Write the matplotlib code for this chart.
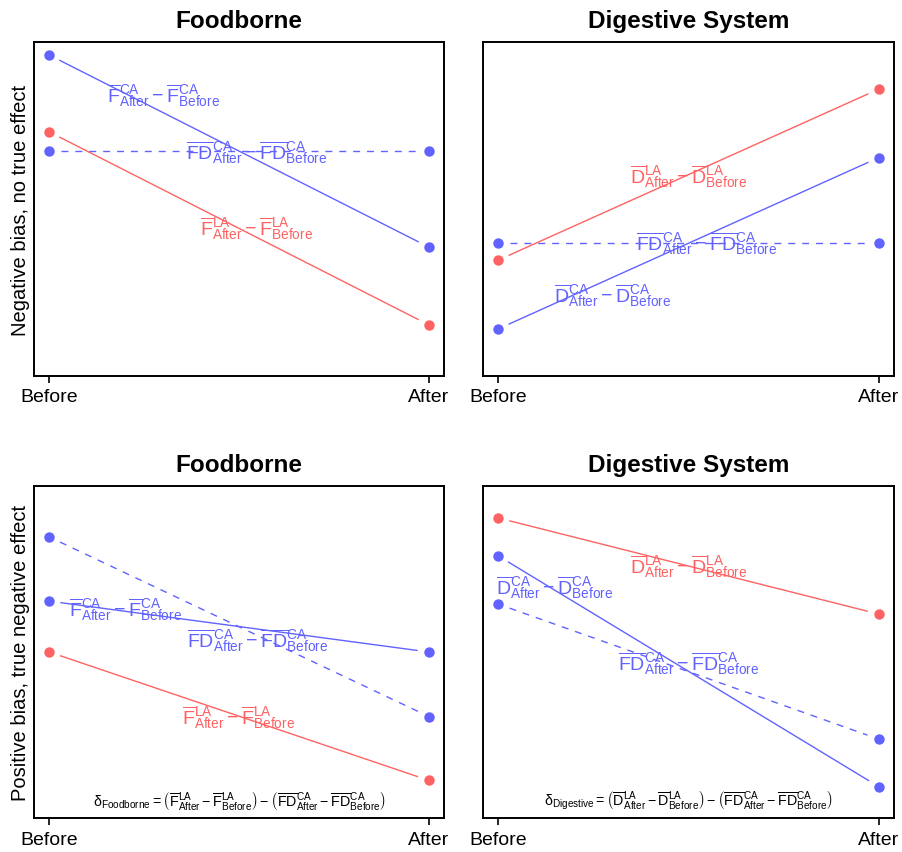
import numpy as np
import matplotlib
matplotlib.use('Agg')
import matplotlib.pyplot as plt

plt.rcParams['font.family'] = ['Liberation Sans', 'DejaVu Sans']
plt.rcParams['mathtext.fontset'] = 'custom'
plt.rcParams['mathtext.rm'] = 'Liberation Sans'
plt.rcParams['mathtext.it'] = 'Liberation Sans:italic'
plt.rcParams['mathtext.bf'] = 'Liberation Sans:bold'

BLUE = '#6262FF'
RED = '#FF6262'

periods = ['Before', 'After']
titles = ['Foodborne', 'Digestive System', 'Foodborne', 'Digestive System']
ylabels = ['Negative bias, no true effect', None, 'Positive bias, true negative effect', None]

# values (arbitrary 0-10 scale), [Before, After]
case_solid = [[9.61, 3.86], [1.41, 6.54], [6.53, 5.00], [7.89, 0.95]]   # blue solid
case_dash = [[6.74, 6.74], [3.97, 3.97], [8.46, 3.06], [6.44, 2.38]]    # blue dashed (FD)
local = [[7.31, 1.53], [3.47, 8.59], [5.00, 1.14], [9.03, 6.14]]        # red


def diff(sym, grp):
    return (r'$\overline{\mathrm{%s}}^{\mathrm{%s}}_{\mathrm{After}}-'
            r'\overline{\mathrm{%s}}^{\mathrm{%s}}_{\mathrm{Before}}$' % (sym, grp, sym, grp))


def delta(name, sym):
    return (r'$\mathrm{\delta}_{\mathrm{%s}}=\left(\overline{\mathrm{%s}}^{\mathrm{LA}}_{\mathrm{After}}-'
            r'\overline{\mathrm{%s}}^{\mathrm{LA}}_{\mathrm{Before}}\right)-'
            r'\left(\overline{\mathrm{FD}}^{\mathrm{CA}}_{\mathrm{After}}-'
            r'\overline{\mathrm{FD}}^{\mathrm{CA}}_{\mathrm{Before}}\right)$' % (name, sym, sym))


syms = ['F', 'D', 'F', 'D']
# label positions: (solid, dashed, red)
lab_pos = [
    [(1.30, 8.44), (1.547, 6.72), (1.547, 4.43)],
    [(1.30, 2.43), (1.548, 3.98), (1.50, 6.00)],
    [(1.20, 6.31), (1.549, 5.36), (1.50, 3.06)],
    [(1.148, 6.98), (1.50, 4.69), (1.50, 7.59)],
]
delta_names = [None, None, 'Foodborne', 'Digestive']

W, H = 902, 853
fig = plt.figure(figsize=(W / 100, H / 100), dpi=100)
rects = [
    (34, 43, 410, 334), (483, 43, 411, 334),
    (34, 486.7, 410, 332.6), (483, 486.7, 411, 332.6),
]
GAP = 12


def seg(ax, xs, ys, **kw):
    # R type="b": line stops short of each point
    p0 = ax.transData.transform((xs[0], ys[0]))
    p1 = ax.transData.transform((xs[1], ys[1]))
    d = p1 - p0
    u = d / np.hypot(*d)
    pts = ax.transData.inverted().transform([p0 + u * GAP, p1 - u * GAP])
    ax.plot(pts[:, 0], pts[:, 1], **kw)


x = [1, 2]
for i in range(4):
    l, t, w, h = rects[i]
    ax = fig.add_axes([l / W, 1 - (t + h) / H, w / W, h / H])
    ax.set_xlim(0.96, 2.04)
    ax.set_ylim(0, 10)

    seg(ax, x, case_dash[i], color=BLUE, lw=1.0, dashes=(5, 5))
    seg(ax, x, case_solid[i], color=BLUE, lw=1.0)
    seg(ax, x, local[i], color=RED, lw=1.0)
    ax.plot(x, case_dash[i], 'o', color=BLUE, ms=7.5, mec='none')
    ax.plot(x, case_solid[i], 'o', color=BLUE, ms=7.5, mec='none')
    ax.plot(x, local[i], 'o', color=RED, ms=7.5, mec='none')

    s = syms[i]
    (sx, sy), (dx, dy), (rx, ry) = lab_pos[i]
    ax.text(sx, sy, diff(s, 'CA'), color=BLUE, fontsize=14, ha='center', va='center')
    ax.text(dx, dy, diff('FD', 'CA'), color=BLUE, fontsize=14, ha='center', va='center')
    ax.text(rx, ry, diff(s, 'LA'), color=RED, fontsize=14, ha='center', va='center')
    if delta_names[i]:
        ax.text(1.5, 0.55, delta(delta_names[i], s), color='black', fontsize=10.3,
                ha='center', va='center')

    ax.set_xticks(x)
    ax.set_xticklabels(periods, fontsize=14)
    ax.set_yticks([])
    ax.tick_params(axis='x', direction='out', length=5, width=1.2, pad=4)
    for sp in ax.spines.values():
        sp.set_linewidth(1.4)
    ax.set_title(titles[i], fontsize=17.5, fontweight='bold', pad=10.5)
    if ylabels[i]:
        ax.set_ylabel(ylabels[i], fontsize=14.5, labelpad=3)

fig.savefig('out.png', dpi=100)
